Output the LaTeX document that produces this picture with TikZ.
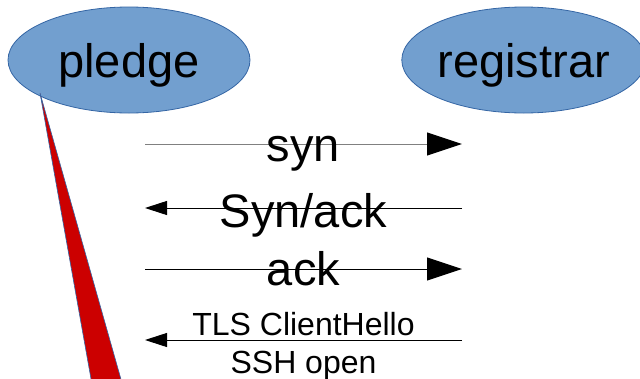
\documentclass[tikz,border=0pt]{standalone}
\usepackage{fontspec}
\setmainfont{Liberation Sans}
\usepackage{xcolor}
\usetikzlibrary{shapes,arrows.meta,positioning}
\definecolor{lightblue}{HTML}{729FCF}
\definecolor{darkblue}{HTML}{3465A4}
\definecolor{darkred}{HTML}{CC0000}

\begin{document}
\begin{tikzpicture}[x=1pt, y=-1pt, node distance=151pt]
                    % Define styles
                    \tikzstyle{party} = [ellipse, draw=darkblue, fill=lightblue, line width=0.8pt, minimum width=240pt, minimum height=106pt, inner sep=0pt, text depth=0pt, font=\fontsize{47}{50}\selectfont]
                    \tikzstyle{msgR} = [draw, -{Triangle[length=35pt, width=23pt, color=black]}, line width=1pt]
                    \tikzstyle{msgL} = [draw, -{Triangle[length=22pt, width=14pt]}, line width=1pt]
                    \tikzstyle{msgtext} = [anchor=base, inner sep=0pt, font=\fontsize{47}{50}\selectfont]
                    \tikzstyle{smalltext} = [anchor=base, inner sep=0pt, font=\fontsize{32}{36}\selectfont]

                    \useasboundingbox (0,0) rectangle (640,378);
                    \clip (0,0) rectangle (640,378);

                    % Nodes
                    \node [party, minimum width=242pt] (pledge) at (129,60) {pledge};
                    \node [party, right=151pt of pledge] (registrar) {registrar};

                    % Message ends
                    \coordinate (synL) at (145,144);  \coordinate (synR) at (462,144);
                    \coordinate (sackL) at (145,208); \coordinate (sackR) at (462,208);
                    \coordinate (ackL) at (145,269);  \coordinate (ackR) at (462,269);
                    \coordinate (tlsL) at (145,340);  \coordinate (tlsR) at (462,340);
                    \coordinate (tip) at (40,93);

                    % Arrows
                    \draw [msgR, draw=gray] (synL) -- node [msgtext, yshift=-17pt] {syn} (synR);
                    \draw [msgL] (sackR) -- node [msgtext, yshift=-19pt] {Syn/ack} (sackL);
                    \draw [msgR] (ackL) -- node [msgtext, yshift=-16pt] {ack} (ackR);
                    \draw [msgL] (tlsR) -- node [smalltext, yshift=5pt] {TLS ClientHello} node [smalltext, yshift=-33pt] {SSH open} (tlsL);

                    % Wedge
                    \filldraw [fill=darkred, draw=darkblue, line width=0.6pt] (tip) -- (93,390) -- (124,390) -- cycle;
                \end{tikzpicture}
\end{document}
